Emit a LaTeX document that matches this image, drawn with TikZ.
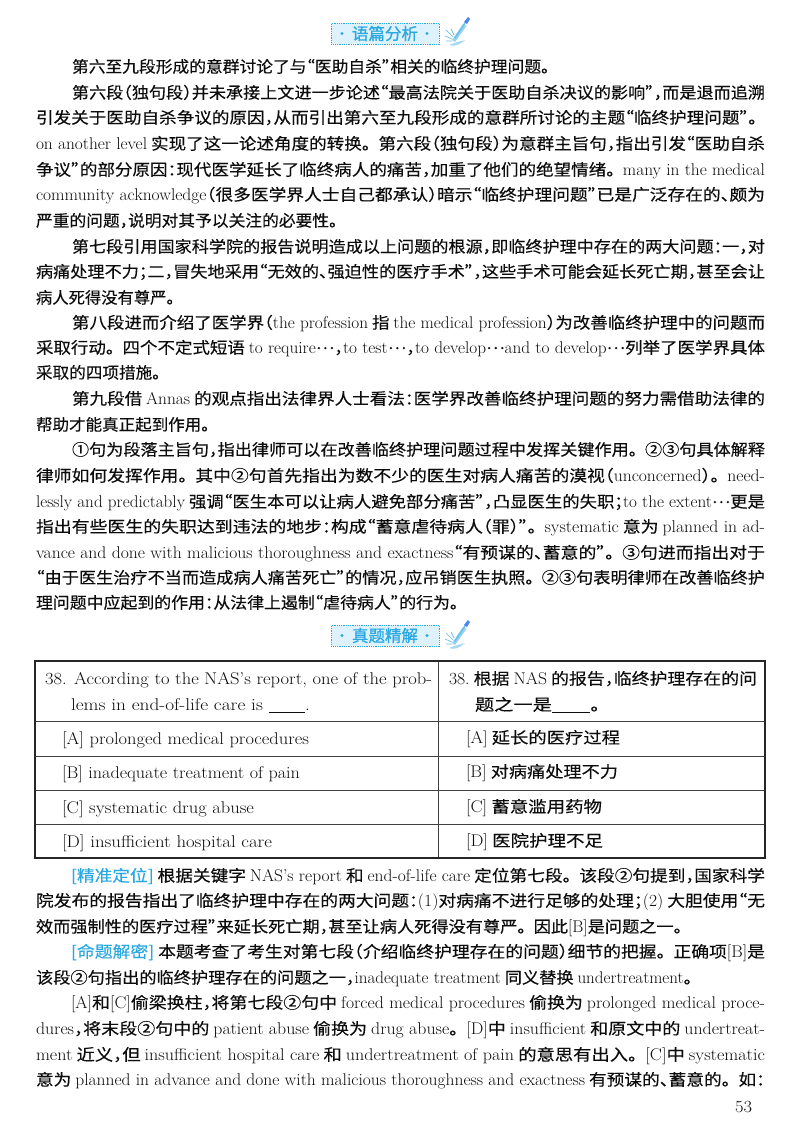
\documentclass[tikz,border=0pt]{standalone}
\usepackage{fontspec}
\usepackage{graphicx}
\newfontfamily\cjkf{Noto Sans CJK SC}[RawFeature=+halt,FakeBold=0.25]
\newfontfamily\tagf{Noto Sans CJK SC}[FakeBold=0.9]
\definecolor{latin}{gray}{0.05}
\definecolor{body}{gray}{0.05}
\definecolor{kw}{HTML}{2AA8E2}
\definecolor{tagfill}{HTML}{DDF2FC}
\definecolor{pen}{HTML}{6CC0EA}
\newsavebox\lbox
\newcommand\fitw[2]{\sbox\lbox{#2}\pgfmathsetmacro\myratio{#1/\the\wd\lbox}\scalebox{\myratio}[1]{\usebox\lbox}}
\newcommand\en[1]{{\normalfont\fontsize{17}{20}\selectfont\color{latin}\scalebox{0.93}[1]{#1}}}
\newcommand\blk{\rule[-1.5pt]{32pt}{0.5pt}}
\newcommand\jh{。\kern.45em}
\newcommand\ldts{\raisebox{4.5pt}{…}}
\tikzset{
  tx/.style={anchor=base west,inner sep=0pt,outer sep=0pt,text=body,font=\cjkf\fontsize{16}{20}\selectfont},
  tag/.style={draw=kw,fill=tagfill,densely dotted,line width=0.8pt,minimum width=108pt,minimum height=21pt,inner sep=0pt,anchor=north west},
  tagtext/.style={text=kw,font=\tagf\fontsize{16.5}{18}\selectfont,inner sep=0pt},
  tagdot/.style={fill=kw,circle,inner sep=0pt,minimum size=3.4pt},
  rulebox/.style={line width=1.2pt,draw=black!85},
  ruleline/.style={line width=0.7pt,draw=black!75}
}
\newcommand\tline[5]{\pgfmathsetmacro\tw{#3-#2}\node[tx] (#1) at (#2,{#4+5.5}) {\fitw{\tw}{#5}};}
\newcommand\penicon[2]{%
  \begin{scope}[shift={(#1,#2)}]
    \fill[pen!70] (10,24) -- (21,8) -- (24.5,10) -- (13,26) -- cycle;
    \draw[pen,line width=1.6pt,line cap=round] (13,22) -- (23,7);
    \fill[pen!70!blue] (22,6) -- (26,1) -- (28,3) -- (25,8) -- cycle;
    \draw[pen,line width=0.7pt] (4,14) -- (11,21) (3,20) -- (10,23) (9,13) -- (12,19) (4,25) -- (10,25);
    \fill[pen!60] (7,29) .. controls (12,31) and (18,29) .. (23,24) .. controls (19,25) and (13,26.5) .. (7,29) -- cycle;
  \end{scope}}
\begin{document}
\begin{tikzpicture}[x=1pt,y=-1pt]
\useasboundingbox (0,0) rectangle (800,1132);
\fill[white] (0,0) rectangle (800,1132);
% heading 1
\node[tag] (tag1) at (331,23) {};
\node[tagtext] (tag1t) at (385,33.5) {语篇分析};
\node[tagdot] (tag1a) at (342,33.5) {};
\node[tagdot] (tag1b) at (427,33.5) {};
\penicon{442}{16}
% body
\tline{a0}{72}{557}{67}{第六至九段形成的意群讨论了与“医助自杀”相关的临终护理问题\jh}
\tline{a1}{72}{765}{93}{第六段（独句段）并未承接上文进一步论述“最高法院关于医助自杀决议的影响”，而是退而追溯}
\tline{a2}{36}{765}{118}{引发关于医助自杀争议的原因，从而引出第六至九段形成的意群所讨论的主题“临终护理问题”\jh}
\tline{a3}{36}{765}{144}{\en{on another level} 实现了这一论述角度的转换\jh 第六段（独句段）为意群主旨句，指出引发“医助自杀}
\tline{a4}{36}{765}{170}{争议”的部分原因：现代医学延长了临终病人的痛苦，加重了他们的绝望情绪\jh\en{many in the medical}}
\tline{a5}{36}{765}{195}{\en{community acknowledge}（很多医学界人士自己都承认）暗示“临终护理问题”已是广泛存在的、颇为}
\tline{a6}{36}{345}{221}{严重的问题，说明对其予以关注的必要性\jh}
\tline{a7}{72}{765}{247}{第七段引用国家科学院的报告说明造成以上问题的根源，即临终护理中存在的两大问题：一，对}
\tline{a8}{36}{765}{272}{病痛处理不力；二，冒失地采用“无效的、强迫性的医疗手术”，这些手术可能会延长死亡期，甚至会让}
\tline{a9}{36}{182}{298}{病人死得没有尊严\jh}
\tline{a10}{72}{765}{323}{第八段进而介绍了医学界（\en{the profession} 指 \en{the medical profession}）为改善临终护理中的问题而}
\tline{a11}{36}{765}{348}{采取行动\jh 四个不定式短语 \en{to require}\ldts，\en{to test}\ldts，\en{to develop}\ldts\en{and to develop}\ldts 列举了医学界具体}
\tline{a12}{36}{168}{373}{采取的四项措施\jh}
\tline{a13}{72}{765}{399}{第九段借 \en{Annas} 的观点指出法律界人士看法：医学界改善临终护理问题的努力需借助法律的}
\tline{a14}{36}{217}{425}{帮助才能真正起到作用\jh}
\tline{a15}{72}{765}{450}{①句为段落主旨句，指出律师可以在改善临终护理问题过程中发挥关键作用\jh②③句具体解释}
\tline{a16}{36}{765}{476}{律师如何发挥作用\jh 其中②句首先指出为数不少的医生对病人痛苦的漠视（\en{unconcerned}）\jh\en{need-}}
\tline{a17}{36}{765}{502}{\en{lessly and predictably} 强调“医生本可以让病人避免部分痛苦”，凸显医生的失职；\en{to the extent}\ldts 更是}
\tline{a18}{36}{765}{527}{指出有些医生的失职达到违法的地步：构成“蓄意虐待病人（罪）”\jh\en{systematic} 意为 \en{planned in ad-}}
\tline{a19}{36}{765}{553}{\en{vance and done with malicious thoroughness and exactness}“有预谋的、蓄意的”\jh③句进而指出对于}
\tline{a20}{36}{765}{578}{“由于医生治疗不当而造成病人痛苦死亡”的情况，应吊销医生执照\jh②③句表明律师在改善临终护}
\tline{a21}{36}{466}{603}{理问题中应起到的作用：从法律上遏制“虐待病人”的行为\jh}
% heading 2
\node[tag] (tag2) at (331,625) {};
\node[tagtext] (tag2t) at (385,635.5) {真题精解};
\node[tagdot] (tag2a) at (342,635.5) {};
\node[tagdot] (tag2b) at (427,635.5) {};
\penicon{442}{619}
% table
\coordinate (tl) at (35,661);
\coordinate (br) at (765,858);
\coordinate (m1) at (438,661);
\coordinate (m2) at (438,858);
\draw[ruleline] (35,721) -- (765,721) (35,756) -- (765,756) (35,790) -- (765,790) (35,824) -- (765,824);
\draw[ruleline] (m1) -- (m2);
\draw[rulebox] (tl) rectangle (br);
\tline{t1}{45}{432}{679}{\en{38. According to the NAS's report, one of the prob-}}
\tline{t2}{71}{310}{705}{\en{lems in end-of-life care is \blk.}}
\tline{t3}{62}{309}{739}{\en{[A] prolonged medical procedures}}
\tline{t4}{62}{300}{773}{\en{[B] inadequate treatment of pain}}
\tline{t5}{62}{254}{808}{\en{[C] systematic drug abuse}}
\tline{t6}{62}{272}{842}{\en{[D] insufficient hospital care}}
\tline{u1}{449}{757}{679}{\en{38.} 根据 \en{NAS} 的报告，临终护理存在的问}
\tline{u2}{475}{600}{705}{题之一是\blk。}
\tline{u3}{466}{620}{738}{\en{[A]} 延长的医疗过程}
\tline{u4}{466}{618}{772}{\en{[B]} 对病痛处理不力}
\tline{u5}{466}{602}{807}{\en{[C]} 蓄意滥用药物}
\tline{u6}{466}{603}{841}{\en{[D]} 医院护理不足}
% analysis
\tline{b0}{71}{765}{876}{\textcolor{kw}{[精准定位]} 根据关键字 \en{NAS's report} 和 \en{end-of-life care} 定位第七段\jh 该段②句提到，国家科学}
\tline{b1}{36}{765}{901}{院发布的报告指出了临终护理中存在的两大问题：\en{(1)}对病痛不进行足够的处理；\en{(2)} 大胆使用“无}
\tline{b2}{36}{690}{927}{效而强制性的医疗过程”来延长死亡期，甚至让病人死得没有尊严\jh 因此\en{[B]}是问题之一\jh}
\tline{b3}{71}{765}{952}{\textcolor{kw}{[命题解密]} 本题考查了考生对第七段（介绍临终护理存在的问题）细节的把握\jh 正确项\en{[B]}是}
\tline{b4}{36}{700}{978}{该段②句指出的临终护理存在的问题之一，\en{inadequate treatment} 同义替换 \en{undertreatment}\jh}
\tline{b5}{71}{765}{1003}{\en{[A]}和\en{[C]}偷梁换柱，将第七段②句中 \en{forced medical procedures} 偷换为 \en{prolonged medical proce-}}
\tline{b6}{36}{765}{1029}{\en{dures}，将末段②句中的 \en{patient abuse} 偷换为 \en{drug abuse}\jh\en{[D]}中 \en{insufficient} 和原文中的 \en{undertreat-}}
\tline{b7}{36}{765}{1055}{\en{ment} 近义，但 \en{insufficient hospital care} 和 \en{undertreatment of pain} 的意思有出入\jh\en{[C]}中 \en{systematic}}
\tline{b8}{36}{765}{1080}{意为 \en{planned in advance and done with malicious thoroughness and exactness} 有预谋的、蓄意的\jh 如：}
\tline{pg}{735}{752}{1107}{\en{53}}
\end{tikzpicture}
\end{document}
